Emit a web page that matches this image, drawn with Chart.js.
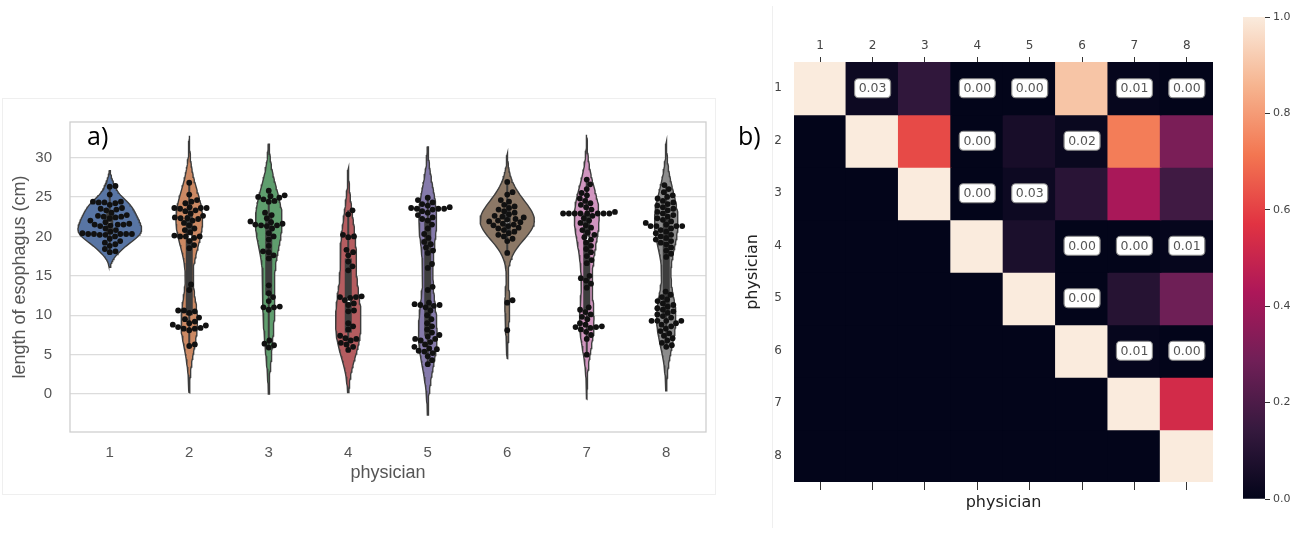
<!DOCTYPE html>
<html>
<head>
<meta charset="utf-8">
<script src="https://cdn.jsdelivr.net/npm/chart.js@4.4.1/dist/chart.umd.min.js"></script>
<style>
  body { margin: 0; background: #fff; width: 1309px; height: 534px; overflow: hidden; position: relative; }
  canvas { position: absolute; top: 0; }
  #violin { left: 0; }
  #heat { left: 735px; }
  #cbar { left: 1230px; }
  .frame { position: absolute; border: 1px solid #efefef; }
</style>
</head>
<body>
<div class="frame" style="left:2px;top:98px;width:712px;height:395px"></div>
<div class="frame" style="left:772px;top:6px;width:0;height:522px;border-width:0 0 0 1px"></div>
<canvas id="violin" width="720" height="534"></canvas>
<canvas id="heat" width="495" height="534"></canvas>
<canvas id="cbar" width="79" height="534"></canvas>
<script>
// ---- data ----
var positions = [1, 2, 3, 4, 5, 6, 7, 8];
var physicians = ['1', '2', '3', '4', '5', '6', '7', '8'];
var yTicks = [0, 5, 10, 15, 20, 25, 30];
var cbarTicks = [0, 0.2, 0.4, 0.6, 0.8, 1.0];

var len1 = [26.4, 26.3, 25.3, 24.4, 24.4, 24.3, 24.3, 24.2, 24.0, 23.6, 23.5, 23.4, 23.3, 23.0, 22.7, 22.6, 22.5, 22.5, 22.4, 22.3, 22.0, 21.8, 21.6, 21.5, 21.5, 21.5, 21.4, 21.3, 21.0, 20.8, 20.6, 20.4, 20.3, 20.3, 20.3, 20.3, 20.3, 20.2, 20.2, 20.0, 19.7, 19.4, 19.2, 19.0, 18.8, 18.4, 18.1, 18.0];
var len2 = [26.8, 25.3, 24.6, 24.4, 24.2, 23.7, 23.6, 23.6, 23.6, 23.5, 23.3, 23.2, 22.9, 22.6, 22.4, 22.3, 22.3, 22.2, 22.0, 21.7, 21.4, 21.0, 20.8, 20.5, 20.1, 20.0, 20.0, 20.0, 19.8, 19.4, 18.9, 18.5, 13.9, 13.2, 10.6, 10.6, 10.5, 10.3, 9.7, 9.5, 9.2, 9.0, 8.8, 8.7, 8.5, 8.4, 8.3, 8.3, 8.1, 6.3, 6.1];
var len3 = [25.8, 25.2, 25.1, 25.0, 24.9, 24.7, 24.5, 24.4, 23.0, 22.7, 22.3, 21.9, 21.8, 21.6, 21.5, 21.4, 21.4, 21.3, 21.0, 20.4, 20.0, 19.6, 18.8, 18.1, 18.0, 17.6, 17.2, 13.8, 12.8, 12.3, 11.8, 11.1, 11.0, 11.0, 10.7, 6.8, 6.4, 6.2, 5.9];
var len4 = [23.3, 22.8, 20.2, 20.0, 19.9, 18.3, 18.0, 17.6, 16.8, 16.2, 15.7, 12.4, 12.3, 12.3, 12.2, 11.9, 11.5, 11.3, 10.6, 10.5, 9.0, 8.6, 8.2, 7.4, 7.1, 7.0, 6.8, 6.5, 6.3, 6.0, 5.6];
var len5 = [24.9, 24.6, 24.3, 24.1, 23.9, 23.7, 23.6, 23.5, 23.5, 23.5, 23.4, 23.2, 23.0, 22.7, 22.4, 22.2, 22.0, 21.5, 21.0, 20.3, 19.8, 19.3, 19.0, 18.6, 18.2, 17.9, 16.5, 16.0, 13.6, 13.2, 11.6, 11.4, 11.3, 11.3, 11.2, 11.0, 10.6, 10.0, 9.5, 9.0, 8.6, 8.2, 7.8, 7.5, 7.3, 7.0, 7.0, 6.8, 6.6, 6.3, 6.0, 5.8, 5.7, 5.5, 5.4, 5.2, 4.8, 4.3, 3.8];
var len6 = [26.9, 25.6, 25.3, 24.6, 24.4, 24.0, 23.8, 23.6, 23.4, 23.2, 23.0, 22.8, 22.6, 22.5, 22.4, 22.2, 22.1, 22.0, 21.9, 21.8, 21.6, 21.5, 21.4, 21.3, 21.1, 21.0, 20.8, 20.6, 20.4, 20.2, 20.0, 19.7, 19.4, 17.9, 11.9, 11.6, 8.1];
var len7 = [27.2, 26.6, 26.0, 25.5, 25.2, 24.8, 24.5, 24.2, 24.0, 23.7, 23.4, 23.1, 22.9, 22.9, 22.9, 22.9, 22.9, 22.9, 22.9, 22.9, 22.6, 22.3, 22.0, 21.7, 21.4, 21.1, 20.8, 20.5, 20.2, 19.9, 19.6, 19.2, 18.8, 18.4, 18.0, 17.5, 17.0, 16.6, 15.0, 14.7, 14.4, 14.0, 13.5, 11.0, 10.7, 10.4, 10.1, 9.8, 9.5, 9.0, 8.8, 8.6, 8.5, 8.5, 8.4, 8.2, 7.9, 7.5, 7.0, 5.0];
var len8 = [26.5, 26.0, 25.6, 25.2, 25.0, 24.8, 24.5, 24.3, 24.1, 23.9, 23.7, 23.5, 23.3, 23.1, 22.9, 22.7, 22.5, 22.3, 22.1, 21.9, 21.7, 21.5, 21.3, 21.3, 21.3, 21.3, 21.0, 20.8, 20.6, 20.4, 20.2, 20.0, 19.8, 19.6, 19.4, 19.2, 19.0, 18.6, 18.2, 17.8, 17.4, 13.0, 12.6, 12.3, 12.0, 11.8, 11.5, 11.3, 11.1, 10.9, 10.7, 10.5, 10.3, 10.1, 9.9, 9.7, 9.3, 9.3, 9.3, 9.3, 9.0, 8.8, 8.6, 8.3, 8.0, 7.7, 7.4, 7.1, 6.8, 6.5, 6.2, 6.0];
var lengths = [len1, len2, len3, len4, len5, len6, len7, len8];

// similarity matrix, row = physician, column = physician
var heatValues = [
  [1, 0.03, 0.13, 0.00, 0.00, 0.90, 0.01, 0.00],
  [0, 1, 0.62, 0.00, 0.06, 0.02, 0.73, 0.31],
  [0, 0, 1, 0.00, 0.03, 0.11, 0.42, 0.17],
  [0, 0, 0, 1, 0.07, 0.00, 0.00, 0.01],
  [0, 0, 0, 0, 1, 0.00, 0.10, 0.28],
  [0, 0, 0, 0, 0, 1, 0.01, 0.00],
  [0, 0, 0, 0, 0, 0, 1, 0.53],
  [0, 0, 0, 0, 0, 0, 0, 1]
];

// ---- style ----
var violinColors = ['#5875a4', '#cc8963', '#5f9e6e', '#b55d60', '#857aab', '#8c7866', '#d095bf', '#8c8c8c'];
var darkGray = '#3d3d3d';
var rocketStops = [[0, '#03051a'], [0.143, '#35193e'], [0.286, '#701f57'], [0.429, '#ad1759'],
                   [0.571, '#e13342'], [0.714, '#f37651'], [0.857, '#f6b48f'], [1, '#faebdd']];
var X_PX = 79.6, Y_PX = 7.88, DOT = 5.8;

function hexRgb(h) { return [1, 3, 5].map(function (i) { return parseInt(h.substr(i, 2), 16); }); }
function rocket(v) {
  for (var i = 1; i < rocketStops.length; i++) {
    if (v <= rocketStops[i][0]) {
      var a = rocketStops[i - 1], b = rocketStops[i];
      var t = (v - a[0]) / (b[0] - a[0]);
      var ca = hexRgb(a[1]), cb = hexRgb(b[1]);
      return 'rgb(' + ca.map(function (c, k) { return Math.round(c + (cb[k] - c) * t); }).join(',') + ')';
    }
  }
  return rocketStops[rocketStops.length - 1][1];
}

function kde(vals) {
  var n = vals.length;
  var mean = vals.reduce(function (a, b) { return a + b; }, 0) / n;
  var sd = Math.sqrt(vals.reduce(function (a, b) { return a + (b - mean) * (b - mean); }, 0) / (n - 1));
  var bw = sd * Math.pow(n, -0.2);
  var lo = Math.min.apply(null, vals) - 2 * bw, hi = Math.max.apply(null, vals) + 2 * bw;
  var grid = [];
  for (var i = 0; i < 100; i++) {
    var y = lo + (hi - lo) * i / 99, d = 0;
    vals.forEach(function (v) { var z = (y - v) / bw; d += Math.exp(-0.5 * z * z); });
    grid.push({ y: y, d: d / (n * bw * Math.sqrt(2 * Math.PI)) });
  }
  return grid;
}

function quantile(sorted, q) {
  var pos = (sorted.length - 1) * q, lo = Math.floor(pos), hi = Math.ceil(pos);
  return sorted[lo] + (sorted[hi] - sorted[lo]) * (pos - lo);
}

// beeswarm offsets, worked out in pixels then turned back into x units
function swarm(vals) {
  var pts = vals.map(function (v) { return { v: v, py: v * Y_PX }; }).sort(function (a, b) { return a.py - b.py; });
  var placed = [];
  pts.forEach(function (p) {
    var near = placed.filter(function (q) { return Math.abs(q.py - p.py) < DOT; });
    var cands = [0];
    near.forEach(function (q) {
      var dx = Math.sqrt(DOT * DOT - (q.py - p.py) * (q.py - p.py));
      cands.push(q.px + dx, q.px - dx);
    });
    cands.sort(function (a, b) { return Math.abs(a) - Math.abs(b); });
    p.px = cands.find(function (c) {
      return near.every(function (q) { return (c - q.px) * (c - q.px) + (q.py - p.py) * (q.py - p.py) >= DOT * DOT - 0.01; });
    });
    placed.push(p);
  });
  return pts.map(function (p) { return { dx: p.px / X_PX, v: p.v }; });
}

// ---- violin + swarm chart ----
var kdes = lengths.map(kde);
var maxDensity = Math.max.apply(null, kdes.map(function (g) { return Math.max.apply(null, g.map(function (p) { return p.d; })); }));

var violinSets = [];
kdes.forEach(function (g, i) {
  var c = positions[i];
  var right = g.map(function (p) { return { x: c + p.d / maxDensity * 0.4, y: p.y }; });
  var left = g.slice().reverse().map(function (p) { return { x: c - p.d / maxDensity * 0.4, y: p.y }; });
  violinSets.push({
    type: 'line', data: right.concat(left, [right[0]]), fill: 'shape',
    backgroundColor: violinColors[i], borderColor: darkGray, borderWidth: 1.4,
    pointRadius: 0, tension: 0, order: 4
  });

  var s = lengths[i].slice().sort(function (a, b) { return a - b; });
  var q1 = quantile(s, 0.25), q3 = quantile(s, 0.75), med = quantile(s, 0.5);
  var lim = 1.5 * (q3 - q1);
  var h1 = Math.min.apply(null, s.filter(function (v) { return v >= q1 - lim; }));
  var h2 = Math.max.apply(null, s.filter(function (v) { return v <= q3 + lim; }));
  violinSets.push({ type: 'line', data: [{ x: c, y: h1 }, { x: c, y: h2 }], borderColor: darkGray, borderWidth: 2, pointRadius: 0, fill: false, order: 3 });
  violinSets.push({ type: 'line', data: [{ x: c, y: q1 }, { x: c, y: q3 }], borderColor: darkGray, borderWidth: 7, borderCapStyle: 'butt', pointRadius: 0, fill: false, order: 2 });
  violinSets.push({ type: 'scatter', data: [{ x: c, y: med }], pointRadius: 2.2, backgroundColor: '#fff', borderWidth: 0, order: 1 });
});

var swarmSets = lengths.map(function (vals, i) {
  return {
    type: 'scatter',
    data: swarm(vals).map(function (p) { return { x: positions[i] + p.dx, y: p.v }; }),
    pointRadius: 2.9, backgroundColor: '#111', borderColor: '#111', borderWidth: 0, order: 0
  };
});

var frame = {
  id: 'frame',
  beforeDatasetsDraw: function (chart) {
    var a = chart.chartArea, ctx = chart.ctx;
    ctx.save();
    ctx.strokeStyle = '#cfcfcf';
    ctx.lineWidth = 1.3;
    ctx.strokeRect(a.left, a.top, a.right - a.left, a.bottom - a.top);
    ctx.restore();
  }
};

function panelLabel(text, x, y) {
  return {
    id: 'label' + text,
    afterDraw: function (chart) {
      var ctx = chart.ctx;
      ctx.save();
      ctx.font = '25px "Open Sans", Arial, sans-serif';
      ctx.fillStyle = '#000';
      ctx.textBaseline = 'middle';
      ctx.fillText(text, x, y);
      ctx.restore();
    }
  };
}

var sansFont = 'Arial, "Liberation Sans", sans-serif';

new Chart(document.getElementById('violin').getContext('2d'), {
  type: 'scatter',
  data: { datasets: violinSets.concat(swarmSets) },
  options: {
    responsive: false,
    animation: false,
    layout: { padding: { top: 122, right: 14, left: 0, bottom: 0 } },
    plugins: { legend: { display: false }, tooltip: { enabled: false } },
    scales: {
      x: {
        type: 'linear', min: 0.5, max: 8.5,
        afterBuildTicks: function (ax) { ax.ticks = positions.map(function (v) { return { value: v }; }); },
        afterFit: function (ax) { ax.height = 102; },
        ticks: { callback: function (v) { return physicians[positions.indexOf(v)]; }, color: '#555', font: { family: sansFont, size: 15 }, padding: 12 },
        grid: { display: false, drawTicks: false },
        border: { display: false },
        title: { display: true, text: 'physician', color: '#555', font: { family: sansFont, size: 18 }, padding: { top: 0, bottom: 50 } }
      },
      y: {
        min: -4.8, max: 34.5,
        afterBuildTicks: function (ax) { ax.ticks = yTicks.map(function (v) { return { value: v }; }); },
        afterFit: function (ax) { ax.width = 70; },
        ticks: { color: '#555', font: { family: sansFont, size: 15 }, padding: 18 },
        grid: { color: '#dcdcdc', lineWidth: 1.3, drawTicks: false },
        border: { display: false },
        title: { display: true, text: 'length of esophagus (cm)', color: '#555', font: { family: sansFont, size: 18 }, padding: { top: 9, bottom: 0 } }
      }
    }
  },
  plugins: [frame, panelLabel('a)', 87, 138)]
});

// ---- heatmap ----
var heatFont = '"DejaVu Sans", sans-serif';

var heatSets = heatValues.map(function (row, i) {
  return {
    data: row.map(function () { return [positions[i] - 0.5, positions[i] + 0.5]; }),
    backgroundColor: row.map(rocket),
    borderWidth: 0, inflateAmount: 0.8, barPercentage: 1, categoryPercentage: 1, grouped: false
  };
});

var cellLabels = {
  id: 'cellLabels',
  afterDatasetsDraw: function (chart) {
    var ctx = chart.ctx, xs = chart.scales.x, ys = chart.scales.y;
    ctx.save();
    ctx.font = '12.5px ' + heatFont;
    ctx.textAlign = 'center';
    ctx.textBaseline = 'middle';
    heatValues.forEach(function (row, r) {
      row.forEach(function (v, c) {
        if (c <= r || v >= 0.05) return;
        var px = xs.getPixelForValue(c), py = ys.getPixelForValue(positions[r]);
        ctx.beginPath();
        ctx.roundRect(px - 18, py - 9.5, 36, 19, 4);
        ctx.fillStyle = '#fff';
        ctx.fill();
        ctx.strokeStyle = '#888';
        ctx.lineWidth = 1.2;
        ctx.stroke();
        ctx.fillStyle = '#555';
        ctx.fillText(v.toFixed(2), px, py + 0.5);
      });
    });
    ctx.restore();
  }
};

new Chart(document.getElementById('heat').getContext('2d'), {
  type: 'bar',
  data: { labels: physicians, datasets: heatSets },
  options: {
    responsive: false,
    animation: false,
    layout: { padding: { top: 0, right: 17, left: 0, bottom: 0 } },
    plugins: { legend: { display: false }, tooltip: { enabled: false } },
    scales: {
      x: {
        position: 'top',
        afterFit: function (ax) { ax.height = 62; },
        ticks: { color: '#444', font: { family: heatFont, size: 12 }, padding: 4 },
        grid: { offset: false, drawOnChartArea: false, tickLength: 5, color: '#333', tickWidth: 1 },
        border: { display: false }
      },
      x2: {
        position: 'bottom',
        afterFit: function (ax) { ax.height = 52; },
        ticks: { display: false },
        grid: { offset: false, drawOnChartArea: false, tickLength: 8, color: '#333', tickWidth: 1 },
        border: { display: false },
        title: { display: true, text: 'physician', color: '#222', font: { family: heatFont, size: 16 }, padding: { top: 0, bottom: 22 } }
      },
      y: {
        min: 0.5, max: 8.5, reverse: true,
        afterBuildTicks: function (ax) { ax.ticks = positions.map(function (v) { return { value: v }; }); },
        afterFit: function (ax) { ax.width = 59; },
        ticks: { callback: function (v) { return physicians[positions.indexOf(v)]; }, color: '#444', font: { family: heatFont, size: 12 }, padding: 12 },
        grid: { display: false, drawTicks: false },
        border: { display: false },
        title: { display: true, text: 'physician', color: '#222', font: { family: heatFont, size: 16 }, padding: { top: 8, bottom: 0 } }
      }
    }
  },
  plugins: [cellLabels, panelLabel('b)', 3, 138)]
});

// ---- colour bar ----
new Chart(document.getElementById('cbar').getContext('2d'), {
  type: 'bar',
  data: {
    labels: [''],
    datasets: [{
      data: [[cbarTicks[0], cbarTicks[cbarTicks.length - 1]]],
      backgroundColor: function (ctx) {
        var area = ctx.chart.chartArea;
        if (!area) return '#000';
        var g = ctx.chart.ctx.createLinearGradient(0, area.bottom, 0, area.top);
        rocketStops.forEach(function (s) { g.addColorStop(s[0], s[1]); });
        return g;
      },
      borderWidth: 0, barPercentage: 1, categoryPercentage: 1
    }]
  },
  options: {
    responsive: false,
    animation: false,
    layout: { padding: { top: 17, right: 0, left: 13, bottom: 35 } },
    plugins: { legend: { display: false }, tooltip: { enabled: false } },
    scales: {
      x: { display: false },
      y: {
        position: 'right', min: 0, max: 1,
        afterBuildTicks: function (ax) { ax.ticks = cbarTicks.map(function (v) { return { value: v }; }); },
        afterFit: function (ax) { ax.width = 44; },
        ticks: { callback: function (v) { return v.toFixed(1); }, color: '#444', font: { family: heatFont, size: 11 }, padding: 3 },
        grid: { drawOnChartArea: false, tickLength: 5, color: '#333' },
        border: { display: false }
      }
    }
  }
});
</script>
</body>
</html>
